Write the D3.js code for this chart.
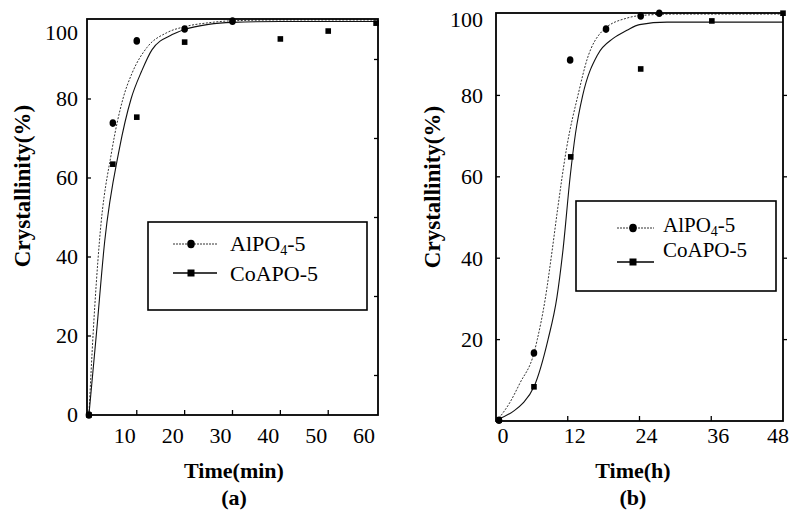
<!DOCTYPE html>
<html lang="en">
<head>
<meta charset="UTF-8">
<script src="https://d3js.org/d3.v7.min.js"></script>
<title>Crystallinity curves</title>
<style>
  body { margin: 0; background: #fff; }
  text { font-family: "Liberation Serif", "Times New Roman", serif; fill: #000; }
</style>
</head>
<body>
<script>
// ---- panel (a): time in min ----
const timeA_AlPO = [0, 5, 10, 20, 30];
const crystA_AlPO = [0, 73.9, 94.7, 97.7, 99.7];
const timeA_CoAPO = [0, 5, 10, 20, 40, 50, 60];
const crystA_CoAPO = [0, 63.5, 75.4, 94.4, 95.2, 97.2, 99.2];
// fitted curves
const fitA_AlPO_t = [0, 0.9, 2.2, 4.8, 7.1, 9, 12.1, 16.3, 20, 25, 30, 40, 60.4];
const fitA_AlPO_y = [0, 21, 44, 67, 80, 86.5, 93, 96.8, 98.3, 99.3, 99.8, 100, 100];
const fitA_CoAPO_t = [0, 1.6, 3.3, 6.3, 8.8, 11, 13.2, 17.4, 20, 25, 30, 40, 60.4];
const fitA_CoAPO_y = [0, 21, 44, 67, 80, 87, 92.5, 96.3, 97.6, 98.9, 99.4, 99.6, 99.6];
const ticksA_x = [10, 20, 30, 40, 50, 60];

// ---- panel (b): time in h ----
const timeB_AlPO = [0.5, 6.35, 12.4, 18.4, 24.2, 27.3];
const crystB_AlPO = [0.2, 16.7, 88.7, 96.3, 99.5, 100.2];
const timeB_CoAPO = [0.5, 6.35, 12.5, 24.2, 36.1, 48];
const crystB_CoAPO = [0.2, 8.4, 64.9, 86.5, 98.3, 100.2];
const fitB_AlPO_t = [0.5, 2.3, 4.0, 6.35, 6.9, 8.2, 9.4, 10.3, 11.8, 13.8, 15.2, 17.9, 21.9, 24, 30, 48];
const fitB_AlPO_y = [0.7, 4.5, 9.3, 16.7, 20, 29.7, 42, 52, 67, 80.6, 88.7, 96, 99, 99.6, 100, 100];
const fitB_CoAPO_t = [0.5, 3, 4.5, 6.35, 8.7, 10.2, 11.2, 12.4, 13.3, 14.5, 17, 19.6, 21.9, 24, 28.6, 48];
const fitB_CoAPO_y = [0.5, 2.5, 4.4, 8.4, 20, 30.5, 42, 60, 70.7, 80, 90, 94, 96, 97.4, 98, 98];
const ticksB_x = [0, 12, 24, 36, 48];

const ticksY = [0, 20, 40, 60, 80, 100];
const seriesNames = ["AlPO", "CoAPO-5"];

const svg = d3.select("body").append("svg")
  .attr("width", 791)
  .attr("height", 512);

svg.append("rect").attr("width", 791).attr("height", 512).attr("fill", "#fff");

const zip = (t, v) => t.map((d, i) => [d, v[i]]);

function drawPanel(p) {
  const x = d3.scaleLinear().domain(p.xDomain).range([p.left, p.right]);
  const y = d3.scaleLinear().domain([0, 100.25]).range([p.bottom, p.top]);
  const g = svg.append("g");

  // fitted curves
  const line = d3.line().x(d => x(d[0])).y(d => y(d[1])).curve(d3.curveMonotoneX);
  g.append("path").datum(zip(p.fitAl[0], p.fitAl[1]))
    .attr("d", line).attr("fill", "none").attr("stroke", "#333")
    .attr("stroke-width", 1).attr("stroke-dasharray", "2,1.5");
  g.append("path").datum(zip(p.fitCo[0], p.fitCo[1]))
    .attr("d", line).attr("fill", "none").attr("stroke", "#111")
    .attr("stroke-width", 1.1);

  // markers
  g.selectAll(".sq").data(zip(p.co[0], p.co[1])).enter().append("rect")
    .attr("x", d => x(d[0]) - 2.8).attr("y", d => y(d[1]) - 2.8)
    .attr("width", 5.6).attr("height", 5.6).attr("fill", "#000");
  g.selectAll(".ci").data(zip(p.al[0], p.al[1])).enter().append("ellipse")
    .attr("cx", d => x(d[0])).attr("cy", d => y(d[1]))
    .attr("rx", 3.3).attr("ry", 3.8).attr("fill", "#000");

  // frame
  g.append("rect").attr("x", p.left).attr("y", p.top)
    .attr("width", p.right - p.left).attr("height", p.bottom - p.top)
    .attr("fill", "none").attr("stroke", "#000").attr("stroke-width", 1.8);

  // ticks
  const tk = g.append("g").attr("stroke", "#000").attr("stroke-width", 1.3);
  p.xTicks.filter(d => d > p.xDomain[0] + 1 && d < p.xDomain[1] - 1).forEach(d => {
    tk.append("line").attr("x1", x(d)).attr("x2", x(d)).attr("y1", p.bottom).attr("y2", p.bottom - 5);
  });
  [20, 40, 60, 80].forEach(d => {
    tk.append("line").attr("x1", p.left).attr("x2", p.left + 4).attr("y1", y(d)).attr("y2", y(d));
  });
  p.rightTicks.forEach(d => {
    tk.append("line").attr("x1", p.right).attr("x2", p.right + p.rightTickDir * 4)
      .attr("y1", y(d)).attr("y2", y(d));
  });

  // tick labels
  g.selectAll(".xl").data(p.xTicks).enter().append("text")
    .attr("x", d => Math.max(p.xLabelMin, Math.min(p.xLabelMax, x(d) + p.xLabelDx)))
    .attr("y", 443).attr("text-anchor", "middle").attr("font-size", 22)
    .text(d => d);
  g.selectAll(".yl").data(p.yTicks).enter().append("text")
    .attr("x", p.left - p.yLabelGap).attr("y", d => Math.max(p.yLabelMin, y(d)))
    .attr("dy", "0.34em").attr("text-anchor", "end").attr("font-size", 22)
    .text(d => d);

  // axis titles
  g.append("text").attr("x", p.xTitleX).attr("y", 478).attr("text-anchor", "middle")
    .attr("font-size", 22).attr("font-weight", "bold").text(p.xTitle);
  g.append("text").attr("x", p.xTitleX).attr("y", 505).attr("text-anchor", "middle")
    .attr("font-size", 22).attr("font-weight", "bold").text(p.panel);
  g.append("text")
    .attr("transform", `translate(${p.yTitleX},${p.yTitleY}) rotate(-90)`)
    .attr("text-anchor", "middle").attr("font-size", 23).attr("font-weight", "bold")
    .text("Crystallinity(%)");

  // legend
  const L = p.legend;
  const lg = g.append("g");
  lg.append("rect").attr("x", L.x).attr("y", L.y).attr("width", L.w).attr("height", L.h)
    .attr("fill", "#fff").attr("stroke", "#000").attr("stroke-width", 1.6);
  lg.append("line").attr("x1", L.lx1).attr("x2", L.lx2).attr("y1", L.y1).attr("y2", L.y1)
    .attr("stroke", "#333").attr("stroke-width", 1).attr("stroke-dasharray", "2,1");
  lg.append("ellipse").attr("cx", L.mx).attr("cy", L.y1).attr("rx", 3.8).attr("ry", 4.2).attr("fill", "#000");
  lg.append("line").attr("x1", L.lx1).attr("x2", L.lx2).attr("y1", L.y2).attr("y2", L.y2)
    .attr("stroke", "#000").attr("stroke-width", 1.3);
  lg.append("rect").attr("x", L.mx - 3.5).attr("y", L.y2 - 3.5).attr("width", 7).attr("height", 7).attr("fill", "#000");

  const t1 = lg.append("text").attr("x", L.tx).attr("y", L.b1).attr("font-size", L.fs);
  t1.append("tspan").text("AlPO");
  t1.append("tspan").attr("font-size", 14).attr("dy", 4).text("4");
  t1.append("tspan").attr("dy", -4).text("-5");
  lg.append("text").attr("x", L.tx).attr("y", L.b2).attr("font-size", L.fs).text(seriesNames[1]);
}

drawPanel({
  left: 87, right: 378, top: 19, bottom: 415,
  xDomain: [-0.4, 60.4],
  al: [timeA_AlPO, crystA_AlPO], co: [timeA_CoAPO, crystA_CoAPO],
  fitAl: [fitA_AlPO_t, fitA_AlPO_y], fitCo: [fitA_CoAPO_t, fitA_CoAPO_y],
  xTicks: ticksA_x, xLabelDx: -12, xLabelMin: 0, xLabelMax: 364,
  yTicks: ticksY, yLabelGap: 9, yLabelMin: 33,
  rightTicks: [10, 30, 50, 70, 90], rightTickDir: -1,
  xTitle: "Time(min)", panel: "(a)", xTitleX: 234,
  yTitleX: 30, yTitleY: 186,
  legend: { x: 148, y: 222, w: 219, h: 88, lx1: 173, lx2: 217, mx: 191,
            y1: 244, y2: 273, tx: 230, b1: 251, b2: 281, fs: 22 }
});

drawPanel({
  left: 496, right: 783, top: 13, bottom: 421,
  xDomain: [0, 48],
  al: [timeB_AlPO, crystB_AlPO], co: [timeB_CoAPO, crystB_CoAPO],
  fitAl: [fitB_AlPO_t, fitB_AlPO_y], fitCo: [fitB_CoAPO_t, fitB_CoAPO_y],
  xTicks: ticksB_x, xLabelDx: 7, xLabelMin: 491, xLabelMax: 778,
  yTicks: ticksY.slice(1), yLabelGap: 13, yLabelMin: 20,
  rightTicks: [20, 40, 60, 80], rightTickDir: 1,
  xTitle: "Time(h)", panel: "(b)", xTitleX: 633,
  yTitleX: 440, yTitleY: 187,
  legend: { x: 576, y: 201, w: 200, h: 90, lx1: 617, lx2: 654, mx: 633,
            y1: 228, y2: 262, tx: 663, b1: 232, b2: 257, fs: 21 }
});
</script>
</body>
</html>
